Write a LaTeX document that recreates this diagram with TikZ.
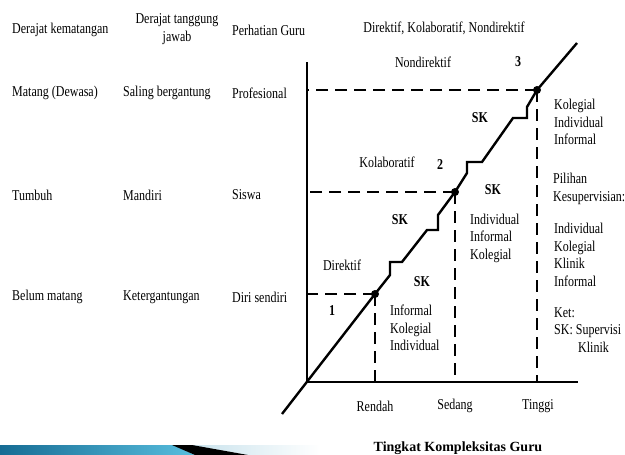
\documentclass[tikz,border=0pt]{standalone}
\usepackage{fontspec}
\setmainfont[FakeStretch=0.8]{Liberation Serif}
\newfontfamily\titlefont{Liberation Serif}
\usetikzlibrary{positioning,calc}
\definecolor{barblue}{RGB}{22,108,148}
\definecolor{barcyan}{RGB}{88,190,222}
\definecolor{barpale}{RGB}{200,226,236}

\begin{document}
\begin{tikzpicture}[x=1pt,y=1pt,auto]
                        \tikzstyle{every node}=[inner sep=0,font=\fontsize{15}{17.5}\selectfont]
                        \tikzstyle{note}=[draw=none,fill=none]
                        \tikzstyle{lnote}=[note,anchor=west,align=left]
                        \tikzstyle{sk}=[note,font=\fontsize{15}{17.5}\selectfont\bfseries]
                        \tikzstyle{axis}=[line width=2.4pt,black]
                        \tikzstyle{guide}=[axis,dash pattern=on 12pt off 7pt]
                        \tikzstyle{dot}=[circle,fill=black,minimum size=8pt]
                        {
                            \fill[white] (0,0) rectangle (625,-455);
                            \useasboundingbox (0,0) rectangle (625,-455);

                            % kolom kiri
                            \node[lnote] (hkem) at (12,-30) {Derajat kematangan};
                            \node[note,align=center] (htang) at (177,-29) {Derajat tanggung\\jawab};
                            \node[lnote] (hper) at (232,-30) {Perhatian Guru};
                            \node[note] (hgaya) at (444,-28) {Direktif, Kolaboratif, Nondirektif};

                            \node[lnote] (kem3) at (12,-93) {Matang (Dewasa)};
                            \node[lnote] (tang3) at (123,-93) {Saling bergantung};
                            \node[lnote] (per3) at (232,-93) {Profesional};
                            \node[lnote] (kem2) at (12,-195) {Tumbuh};
                            \node[lnote] (tang2) at (123,-195) {Mandiri};
                            \node[lnote] (per2) at (232,-195) {Siswa};
                            \node[lnote] (kem1) at (12,-297) {Belum matang};
                            \node[lnote] (tang1) at (123,-297) {Ketergantungan};
                            \node[lnote] (per1) at (232,-297) {Diri sendiri};

                            % sumbu
                            \coordinate (o) at (307,-382);
                            \coordinate (ytop) at (307,-62);
                            \coordinate (xend) at (578,-382);
                            \coordinate (dstart) at (282,-414);
                            \coordinate (dend) at (577,-43);
                            \node[dot] (d1) at (375,-294) {};
                            \node[dot] (d2) at (455,-192) {};
                            \node[dot] (d3) at (537,-90) {};

                            \draw[axis] (ytop) -- (o) -- (xend);
                            \foreach \d in {d1,d2,d3} {
                                \draw[guide] (\d.center) -- (\d -| o);
                                \draw[guide] (\d.center) -- (\d |- o);
                            }
                            \draw[axis,line join=miter] (dstart) -- (d1.center)
                                -- ++(15,19) -- ++(0,13) -- ++(12,0) -- ++(25,32) -- ++(11,0) -- ++(0,15)
                                -- (d2.center)
                                -- ++(12,19) -- ++(0,11) -- ++(15,0) -- ++(31,44) -- ++(14,0) -- ++(0,11)
                                -- (d3.center) -- (dend);

                            % isi grafik
                            \node[note] (nondir) at (423,-62) {Nondirektif};
                            \node[sk] (n3) at (518,-62) {3};
                            \node[sk] (sk4) at (480,-118) {SK};
                            \node[lnote] (pil3) at (554,-122) {Kolegial\\Individual\\Informal};
                            \node[note] (kolab) at (387,-162) {Kolaboratif};
                            \node[sk] (n2) at (440,-165) {2};
                            \node[sk] (sk3) at (493,-190) {SK};
                            \node[lnote] (pilihan) at (553,-189) {Pilihan\\Kesupervisian:};
                            \node[sk] (sk2) at (400,-220) {SK};
                            \node[lnote] (pil2) at (470,-238) {Individual\\Informal\\Kolegial};
                            \node[lnote] (pilall) at (554,-255) {Individual\\Kolegial\\Klinik\\Informal};
                            \node[note] (dir) at (342,-265) {Direktif};
                            \node[sk] (sk1) at (422,-282) {SK};
                            \node[sk] (n1) at (332,-311) {1};
                            \node[lnote] (pil1) at (390,-328) {Informal\\Kolegial\\Individual};
                            \node[lnote] (ket) at (554,-330) {Ket:\\SK:\ Supervisi\\\hspace*{24pt}Klinik};

                            \node[note] (rendah) at (375,-406) {Rendah};
                            \node[note] (sedang) at (455,-406) {Sedang};
                            \node[note] (tinggi) at (538,-406) {Tinggi};
                            \node[note,font=\titlefont\fontsize{14}{16}\selectfont\bfseries] (judul) at (458,-448) {Tingkat Kompleksitas Guru};

                            % pita bawah
                            \shade[left color=barblue,right color=barcyan] (0,-445) -- (173,-445) -- (195,-455) -- (0,-455) -- cycle;
                            \shade[left color=barpale,right color=white] (190,-445) -- (320,-445) -- (320,-455) -- (248,-455) -- cycle;
                            \fill[black] (172,-445) -- (192,-445) -- (248,-455) -- (195,-455) -- cycle;
                        }
                    \end{tikzpicture}
\end{document}
